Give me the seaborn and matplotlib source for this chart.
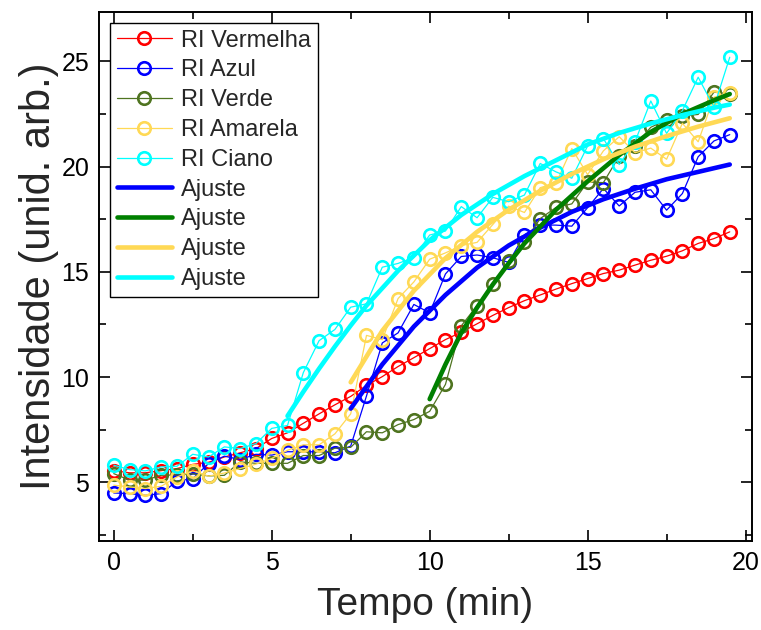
import numpy as np
import pandas as pd
import matplotlib
matplotlib.use("Agg")
import matplotlib.pyplot as plt
import seaborn as sns
from matplotlib.ticker import MultipleLocator

# ---------------- data ----------------
tempo = [i * 0.5 for i in range(40)]

ri_vermelha = [5.55, 5.45, 5.45, 5.55, 5.65, 5.85, 5.95, 6.2, 6.4, 6.6,
               7.08, 7.35, 7.8, 8.25, 8.68, 9.08, 9.6, 10.02, 10.5, 10.92,
               11.35, 11.78, 12.13, 12.53, 12.93, 13.3, 13.63, 13.9, 14.18, 14.44,
               14.68, 14.92, 15.08, 15.32, 15.55, 15.74, 16.0, 16.35, 16.58, 16.9]
ri_azul = [4.49, 4.46, 4.38, 4.46, 5.06, 5.17, 5.89, 6.24, 6.08, 6.33,
           6.29, 6.45, 6.45, 6.45, 6.4, 6.72, 9.1, 11.62, 12.1, 13.45,
           13.05, 14.9, 15.73, 15.8, 15.67, 15.45, 16.76, 17.23, 17.22, 17.17,
           18.05, 18.96, 18.13, 18.78, 18.9, 17.93, 18.72, 20.47, 21.22, 21.52]
ri_verde = [5.41, 5.1, 5.1, 5.33, 5.35, 5.4, 5.3, 5.33, 5.97, 5.9,
            5.9, 5.9, 6.27, 6.27, 6.62, 6.66, 7.4, 7.35, 7.74, 7.98,
            8.37, 9.65, 12.43, 13.4, 14.44, 15.52, 16.43, 17.53, 18.06, 18.23,
            19.27, 19.24, 20.5, 21.0, 21.87, 22.22, 22.4, 22.48, 23.54, 23.46]
ri_amarela = [4.86, 4.78, 4.7, 4.81, 5.25, 5.54, 5.29, 5.44, 5.65, 5.86,
              6.13, 6.52, 6.78, 6.78, 7.3, 8.25, 11.98, 11.78, 13.73, 14.52,
              15.6, 15.9, 16.25, 16.4, 17.25, 18.12, 17.82, 19.0, 19.22, 20.86,
              19.62, 20.75, 21.42, 20.66, 20.88, 20.35, 22.06, 21.18, 23.3, 23.48]
ri_ciano = [5.81, 5.6, 5.54, 5.73, 5.76, 6.33, 6.2, 6.68, 6.6, 6.84,
            7.56, 7.7, 10.21, 11.73, 12.26, 13.32, 13.48, 15.22, 15.4, 15.68,
            16.75, 16.94, 18.1, 17.57, 18.54, 18.33, 18.65, 20.15, 19.75, 19.45,
            20.98, 21.33, 20.1, 21.18, 23.12, 21.58, 22.66, 24.25, 22.83, 25.2]

# fitted curves
fit_azul_x = [7.5, 8.5, 9.5, 10.5, 11.5, 12.5, 13.5, 14.5, 15.5, 16.5, 17.5, 18.5, 19.5]
fit_azul_y = [8.5, 10.6, 12.4, 13.9, 15.2, 16.25, 17.1, 17.85, 18.45, 18.95, 19.4, 19.75, 20.1]
fit_verde_x = [10.0, 10.5, 11.0, 11.5, 12.0, 12.5, 13.0, 14.0, 15.0, 16.0, 17.0, 18.0, 19.0, 19.5]
fit_verde_y = [8.95, 10.6, 12.1, 13.3, 14.4, 15.4, 16.35, 17.95, 19.3, 20.55, 21.65, 22.5, 23.15, 23.45]
fit_amarela_x = [7.5, 8.5, 9.5, 10.5, 11.5, 12.5, 13.5, 14.5, 15.5, 16.5, 17.5, 18.5, 19.5]
fit_amarela_y = [9.75, 12.2, 14.1, 15.65, 16.9, 17.95, 18.85, 19.65, 20.35, 20.95, 21.45, 21.9, 22.3]
fit_ciano_x = [5.5, 6.0, 6.5, 7.0, 7.5, 8.0, 9.0, 10.0, 11.0, 12.0, 13.0, 14.0, 15.0, 16.0, 17.0, 18.0, 19.0, 19.5]
fit_ciano_y = [8.15, 9.3, 10.4, 11.45, 12.45, 13.4, 15.05, 16.5, 17.7, 18.7, 19.55, 20.3, 21.05, 21.6, 22.05, 22.45, 22.8, 22.95]

series_labels = ["RI Vermelha", "RI Azul", "RI Verde", "RI Amarela", "RI Ciano"]
series_colors = ["#ff0000", "#0000ff", "#4f7420", "#ffd955", "#00ffff"]
fit_colors = ["#0000ff", "#008000", "#ffd955", "#00ffff"]

# ---------------- style ----------------
sns.set_style("ticks")
plt.rcParams["font.family"] = ["Liberation Sans", "DejaVu Sans"]

fig = plt.figure(figsize=(7.61, 6.30), dpi=100)
ax = fig.add_axes([0.130, 0.141, 0.858, 0.840])

data_series = [ri_vermelha, ri_azul, ri_verde, ri_amarela, ri_ciano]
for vals, lab, col in zip(data_series, series_labels, series_colors):
    df = pd.DataFrame({"t": tempo, "v": vals})
    sns.lineplot(data=df, x="t", y="v", ax=ax, color=col, linewidth=0.9,
                 marker="o", markersize=9, markerfacecolor="none",
                 markeredgecolor=col, markeredgewidth=1.9,
                 label=lab, sort=False, estimator=None)

fits = [(fit_azul_x, fit_azul_y), (fit_verde_x, fit_verde_y),
        (fit_amarela_x, fit_amarela_y), (fit_ciano_x, fit_ciano_y)]
for (fx, fy), col in zip(fits, fit_colors):
    dff = pd.DataFrame({"t": fx, "v": fy})
    sns.lineplot(data=dff, x="t", y="v", ax=ax, color=col, linewidth=3.3,
                 label="Ajuste", sort=False, estimator=None)

ax.set_xlim(-0.47, 20.2)
ax.set_ylim(2.2, 27.35)
ax.xaxis.set_major_locator(MultipleLocator(5))
ax.xaxis.set_minor_locator(MultipleLocator(2.5))
ax.yaxis.set_major_locator(MultipleLocator(5))
ax.yaxis.set_minor_locator(MultipleLocator(2.5))
ax.tick_params(which="both", direction="in", top=True, right=True,
               colors="black", width=1.2)
ax.tick_params(which="major", length=8, labelsize=18, pad=7)
ax.tick_params(which="minor", length=5)
for sp in ax.spines.values():
    sp.set_visible(True)
    sp.set_linewidth(1.4)
    sp.set_color("black")

ax.set_xlabel("Tempo (min)", fontsize=28, labelpad=9)
ax.set_ylabel("Intensidade (unid. arb.)", fontsize=30, labelpad=2)

leg = ax.legend(loc="upper left", fontsize=17, frameon=True, fancybox=False,
                edgecolor="black", framealpha=1, handlelength=2.33,
                handletextpad=0.38, labelspacing=0.33, borderpad=0.3,
                borderaxespad=0.45)
leg.get_frame().set_linewidth(1.0)

fig.savefig("out.png", dpi=100)
